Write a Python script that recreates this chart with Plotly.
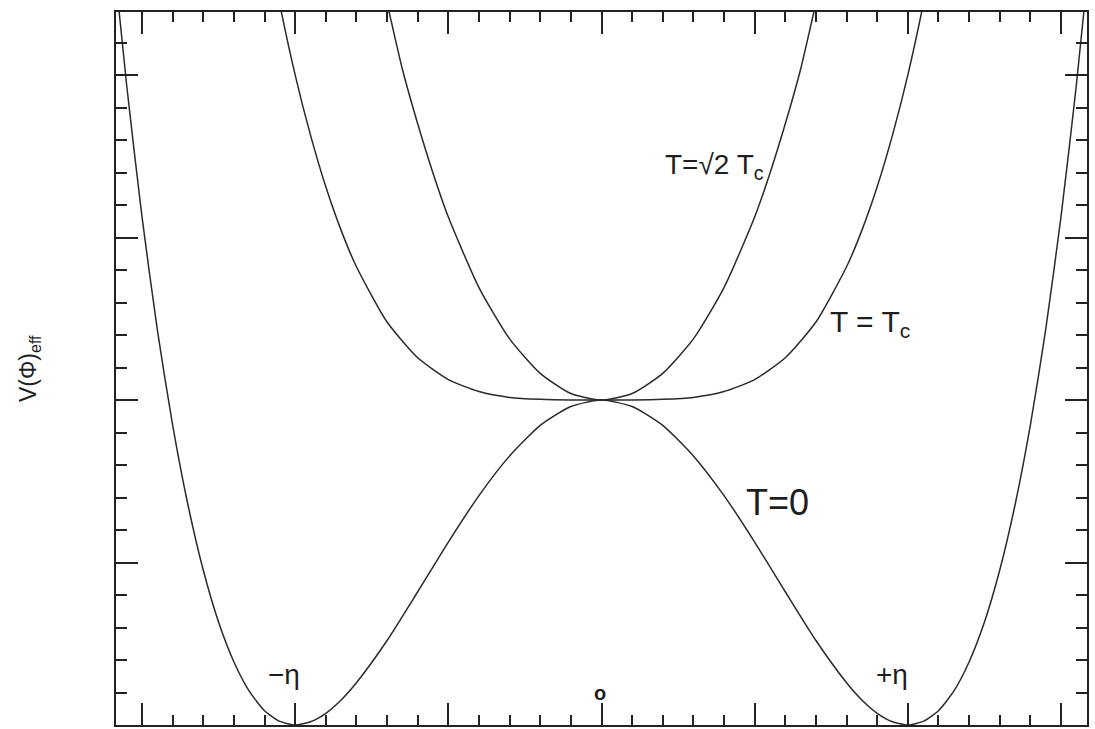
import plotly.graph_objects as go

# Field value in units of eta
phi = [-1.59, -1.55, -1.5, -1.45, -1.4, -1.35, -1.3, -1.25, -1.2, -1.15, -1.1, -1.05,
       -1.0, -0.95, -0.9, -0.85, -0.8, -0.7, -0.6, -0.5, -0.4, -0.3, -0.2, -0.1,
       0.0, 0.1, 0.2, 0.3, 0.4, 0.5, 0.6, 0.7, 0.8, 0.85, 0.9, 0.95, 1.0, 1.05,
       1.1, 1.15, 1.2, 1.25, 1.3, 1.35, 1.4, 1.45, 1.5, 1.55, 1.59]

# T = 0 : double well, minima at +/- eta
v_t0 = [23.35, 19.67, 15.63, 12.16, 9.22, 6.77, 4.76, 3.16, 1.94, 1.04, 0.44, 0.11,
        0.0, 0.10, 0.36, 0.77, 1.30, 2.60, 4.10, 5.63, 7.06, 8.28, 9.22, 9.80,
        10.0, 9.80, 9.22, 8.28, 7.06, 5.63, 4.10, 2.60, 1.30, 0.77, 0.36, 0.10, 0.0, 0.11,
        0.44, 1.04, 1.94, 3.16, 4.76, 6.77, 9.22, 12.16, 15.63, 19.67, 23.35]

# T = Tc : flat quartic bottom
phi_tc = [-1.1, -1.05, -1.0, -0.95, -0.9, -0.85, -0.8, -0.7, -0.6, -0.5, -0.4, -0.3,
          -0.2, -0.1, 0.0, 0.1, 0.2, 0.3, 0.4, 0.5, 0.6, 0.7, 0.8, 0.85, 0.9, 0.95,
          1.0, 1.05, 1.1]
v_tc = [24.64, 22.16, 20.0, 18.15, 16.56, 15.22, 14.10, 12.40, 11.30, 10.63, 10.26,
        10.08, 10.02, 10.0, 10.0, 10.0, 10.02, 10.08, 10.26, 10.63, 11.30, 12.40,
        14.10, 15.22, 16.56, 18.15, 20.0, 22.16, 24.64]

# T = sqrt(2) Tc : single minimum at the origin
phi_t2 = [-0.75, -0.7, -0.65, -0.6, -0.55, -0.5, -0.4, -0.3, -0.2, -0.1, 0.0,
          0.1, 0.2, 0.3, 0.4, 0.5, 0.55, 0.6, 0.65, 0.7, 0.75]
v_t2 = [24.00, 22.20, 20.18, 18.50, 16.98, 15.63, 13.46, 11.88, 10.82, 10.20, 10.0,
        10.20, 10.82, 11.88, 13.46, 15.63, 16.98, 18.50, 20.18, 22.20, 24.00]

LINE = "#2a2a2a"

fig = go.Figure()
for xs, ys in [(phi, v_t0), (phi_tc, v_tc), (phi_t2, v_t2)]:
    fig.add_trace(go.Scatter(x=xs, y=ys, mode="lines",
                             line=dict(color=LINE, width=1.5, shape="spline", smoothing=0.6),
                             showlegend=False, hoverinfo="skip"))

font_lbl = dict(family="Liberation Sans, Arial, sans-serif", color="#1e1e1e")

labels = [
    (0.37, 17.2, "T=√2 T<sub>c</sub>", 28),
    (0.875, 12.35, "T = T<sub>c</sub>", 30),
    (0.575, 6.85, "T=0", 36),
    (-1.035, 1.55, "−η", 28),
    (0.95, 1.55, "+η", 28),
    (-0.005, 1.0, "<b>o</b>", 20),
]
for x, y, t, s in labels:
    fig.add_annotation(x=x, y=y, text=t, showarrow=False,
                       font=dict(size=s, **font_lbl))

fig.add_annotation(xref="paper", yref="paper", x=-0.089, y=0.5,
                   xanchor="center", yanchor="middle",
                   text="V(Φ)<sub>eff</sub>", textangle=-90, showarrow=False,
                   font=dict(size=23, **font_lbl))

axis_common = dict(showgrid=False, zeroline=False, showticklabels=False,
                   showline=True, linecolor="#222", linewidth=2,
                   mirror="allticks", ticks="inside", tickcolor="#222",
                   tickwidth=1.5, ticklen=22)

fig.update_xaxes(range=[-1.585, 1.585], tick0=0, dtick=0.5,
                 minor=dict(dtick=0.1, ticks="inside", ticklen=10,
                            tickcolor="#222", tickwidth=1.5),
                 **axis_common)
fig.update_yaxes(range=[0, 21.94], tick0=0, dtick=5,
                 minor=dict(dtick=1, ticks="inside", ticklen=11,
                            tickcolor="#222", tickwidth=1.5),
                 **axis_common)

fig.update_layout(width=1095, height=729,
                  margin=dict(l=116, r=8, t=12, b=4),
                  paper_bgcolor="white", plot_bgcolor="white")

fig.write_html("out.html")
